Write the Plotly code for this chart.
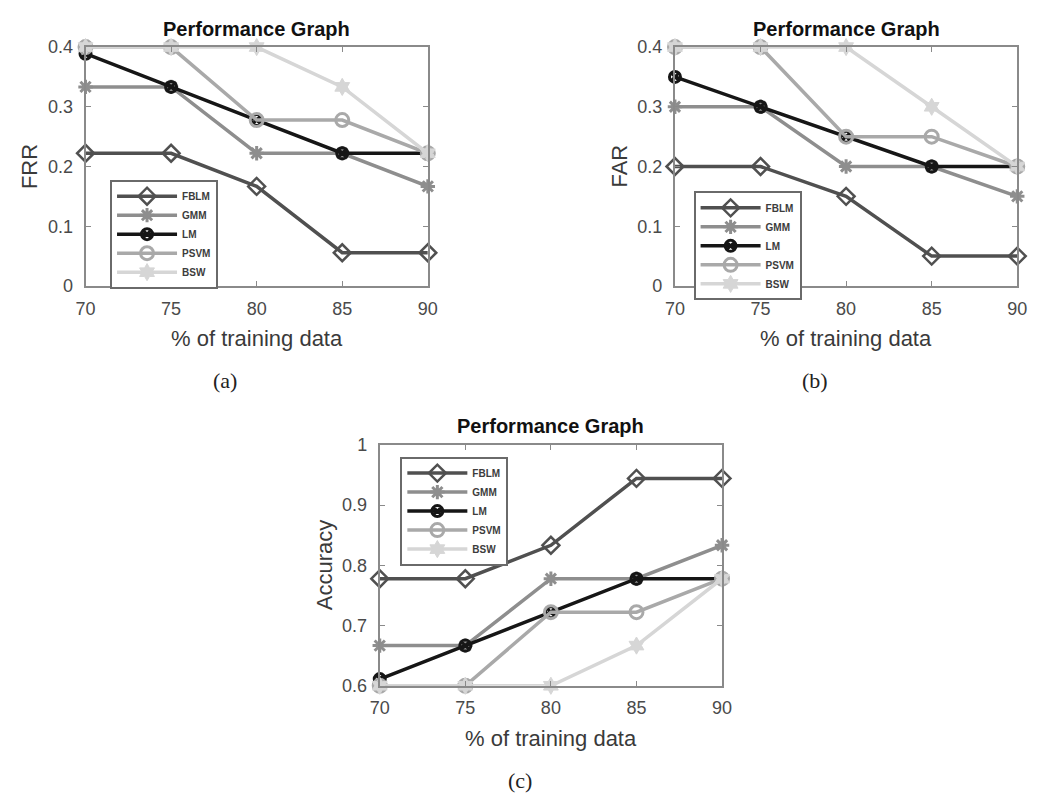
import plotly.graph_objects as go

# Training-set sizes (%)
train_pct = [70, 75, 80, 85, 90]

methods = ["FBLM", "GMM", "LM", "PSVM", "BSW"]

# False rejection rate per method
frr_fblm = [0.2222, 0.2222, 0.1667, 0.0556, 0.0556]
frr_gmm = [0.3333, 0.3333, 0.2222, 0.2222, 0.1667]
frr_lm = [0.3889, 0.3333, 0.2778, 0.2222, 0.2222]
frr_psvm = [0.4, 0.4, 0.2778, 0.2778, 0.2222]
frr_bsw = [0.4, 0.4, 0.4, 0.3333, 0.2222]

# False acceptance rate per method
far_fblm = [0.20, 0.20, 0.15, 0.05, 0.05]
far_gmm = [0.30, 0.30, 0.20, 0.20, 0.15]
far_lm = [0.35, 0.30, 0.25, 0.20, 0.20]
far_psvm = [0.40, 0.40, 0.25, 0.25, 0.20]
far_bsw = [0.40, 0.40, 0.40, 0.30, 0.20]

# Accuracy per method
acc_fblm = [0.7778, 0.7778, 0.8333, 0.9444, 0.9444]
acc_gmm = [0.6667, 0.6667, 0.7778, 0.7778, 0.8333]
acc_lm = [0.6111, 0.6667, 0.7222, 0.7778, 0.7778]
acc_psvm = [0.6, 0.6, 0.7222, 0.7222, 0.7778]
acc_bsw = [0.6, 0.6, 0.6, 0.6667, 0.7778]

x_ticks = [70, 75, 80, 85, 90]
frr_ticks = [0, 0.1, 0.2, 0.3, 0.4]
far_ticks = [0, 0.1, 0.2, 0.3, 0.4]
acc_ticks = [0.6, 0.7, 0.8, 0.9, 1.0]

# grayscale styling for each method
styles = {
    "FBLM": dict(color="#505050", symbol="diamond-open", size=13, mlw=2.5, width=3.5),
    "GMM": dict(color="#8e8e8e", symbol="asterisk-open", size=12, mlw=3, width=3.5),
    "LM": dict(color="#161616", symbol="circle-x-open", size=11, mlw=3, width=3.5),
    "PSVM": dict(color="#a9a9a9", symbol="circle-open", size=13, mlw=3, width=3.5),
    "BSW": dict(color="#d6d6d6", symbol="hexagram", size=13, mlw=1, width=3.5),
}

W, H = 1040, 804


def px_x(v):
    return v / W


def px_y(v):
    return 1 - v / H


# plot areas in pixels: (left, right, top, bottom)
panels = [
    dict(box=(77, 426, 38, 283), series=[frr_fblm, frr_gmm, frr_lm, frr_psvm, frr_bsw],
         yrange=[0, 0.4], yticks=frr_ticks, ytext=["0", "0.1", "0.2", "0.3", "0.4"],
         ylabel="FRR", legend_pos=(102, 174), caption="(a)"),
    dict(box=(678, 1027, 38, 283), series=[far_fblm, far_gmm, far_lm, far_psvm, far_bsw],
         yrange=[0, 0.4], yticks=far_ticks, ytext=["0", "0.1", "0.2", "0.3", "0.4"],
         ylabel="FAR", legend_pos=(697, 186), caption="(b)"),
    dict(box=(377, 726, 446, 693), series=[acc_fblm, acc_gmm, acc_lm, acc_psvm, acc_bsw],
         yrange=[0.6, 1.0], yticks=acc_ticks, ytext=["0.6", "0.7", "0.8", "0.9", "1"],
         ylabel="Accuracy", legend_pos=(398, 458), caption="(c)"),
]

fig = go.Figure()
annotations = []
layout_axes = {}
axis_col = "#8a8a8a"
tick_font = dict(family="Liberation Sans, Arial, sans-serif", size=18, color="#4a4a4a")

for i, p in enumerate(panels, start=1):
    xa = "x" if i == 1 else f"x{i}"
    ya = "y" if i == 1 else f"y{i}"
    lg = "legend" if i == 1 else f"legend{i}"
    left, right, top, bottom = p["box"]
    for name, vals in zip(methods, p["series"]):
        s = styles[name]
        fig.add_trace(go.Scatter(
            x=train_pct, y=vals, name=name, mode="lines+markers",
            xaxis=xa, yaxis=ya, legend=lg, cliponaxis=False,
            line=dict(color=s["color"], width=s["width"]),
            marker=dict(symbol=s["symbol"], size=s["size"], color=s["color"],
                        line=dict(color=s["color"], width=s["mlw"])),
        ))
    common = dict(showline=True, linecolor=axis_col, linewidth=2, mirror="ticks",
                  ticks="inside", ticklen=5, tickcolor=axis_col, tickwidth=1,
                  showgrid=False, zeroline=False, tickfont=tick_font)
    layout_axes["xaxis" if i == 1 else f"xaxis{i}"] = dict(
        domain=[px_x(left), px_x(right)], range=[70, 90], anchor=ya,
        tickvals=x_ticks, ticktext=[str(t) for t in x_ticks],
        ticklabelstandoff=5, **common)
    layout_axes["yaxis" if i == 1 else f"yaxis{i}"] = dict(
        domain=[px_y(bottom), px_y(top)], range=p["yrange"], anchor=xa,
        tickvals=p["yticks"], ticktext=p["ytext"],
        ticklabelstandoff=7, **common)
    lx, ly = p["legend_pos"]
    layout_axes[lg] = dict(
        x=px_x(lx), y=px_y(ly), xanchor="left", yanchor="top",
        bgcolor="white", bordercolor="#6a6a6a", borderwidth=2,
        font=dict(family="Liberation Sans, Arial, sans-serif", size=10, color="#3c3c3c",
                  weight="bold"),
        itemwidth=60, tracegroupgap=0)
    cx = (left + right) / 2
    annotations.append(dict(
        text="<b>Performance Graph</b>", x=px_x(cx), y=px_y(top - 19),
        xref="paper", yref="paper", showarrow=False, xanchor="center", yanchor="middle",
        font=dict(family="Liberation Sans, Arial, sans-serif", size=20, color="#111111")))
    annotations.append(dict(
        text="% of training data", x=px_x(cx), y=px_y(bottom + 54),
        xref="paper", yref="paper", showarrow=False, xanchor="center", yanchor="middle",
        font=dict(family="Liberation Sans, Arial, sans-serif", size=22, color="#3a3a3a")))
    annotations.append(dict(
        text=p["ylabel"], x=px_x(left - 57), y=px_y((top + bottom) / 2), textangle=-90,
        xref="paper", yref="paper", showarrow=False, xanchor="center", yanchor="middle",
        font=dict(family="Liberation Sans, Arial, sans-serif", size=22, color="#3a3a3a")))
    annotations.append(dict(
        text=p["caption"], x=px_x(cx - 32), y=px_y(bottom + 97),
        xref="paper", yref="paper", showarrow=False, xanchor="center", yanchor="middle",
        font=dict(family="Liberation Serif, Times New Roman, serif", size=22, color="#222222")))

fig.update_layout(
    width=W, height=H, margin=dict(l=0, r=0, t=0, b=0),
    paper_bgcolor="white", plot_bgcolor="white",
    annotations=annotations, **layout_axes,
)

fig.write_html("out.html")
